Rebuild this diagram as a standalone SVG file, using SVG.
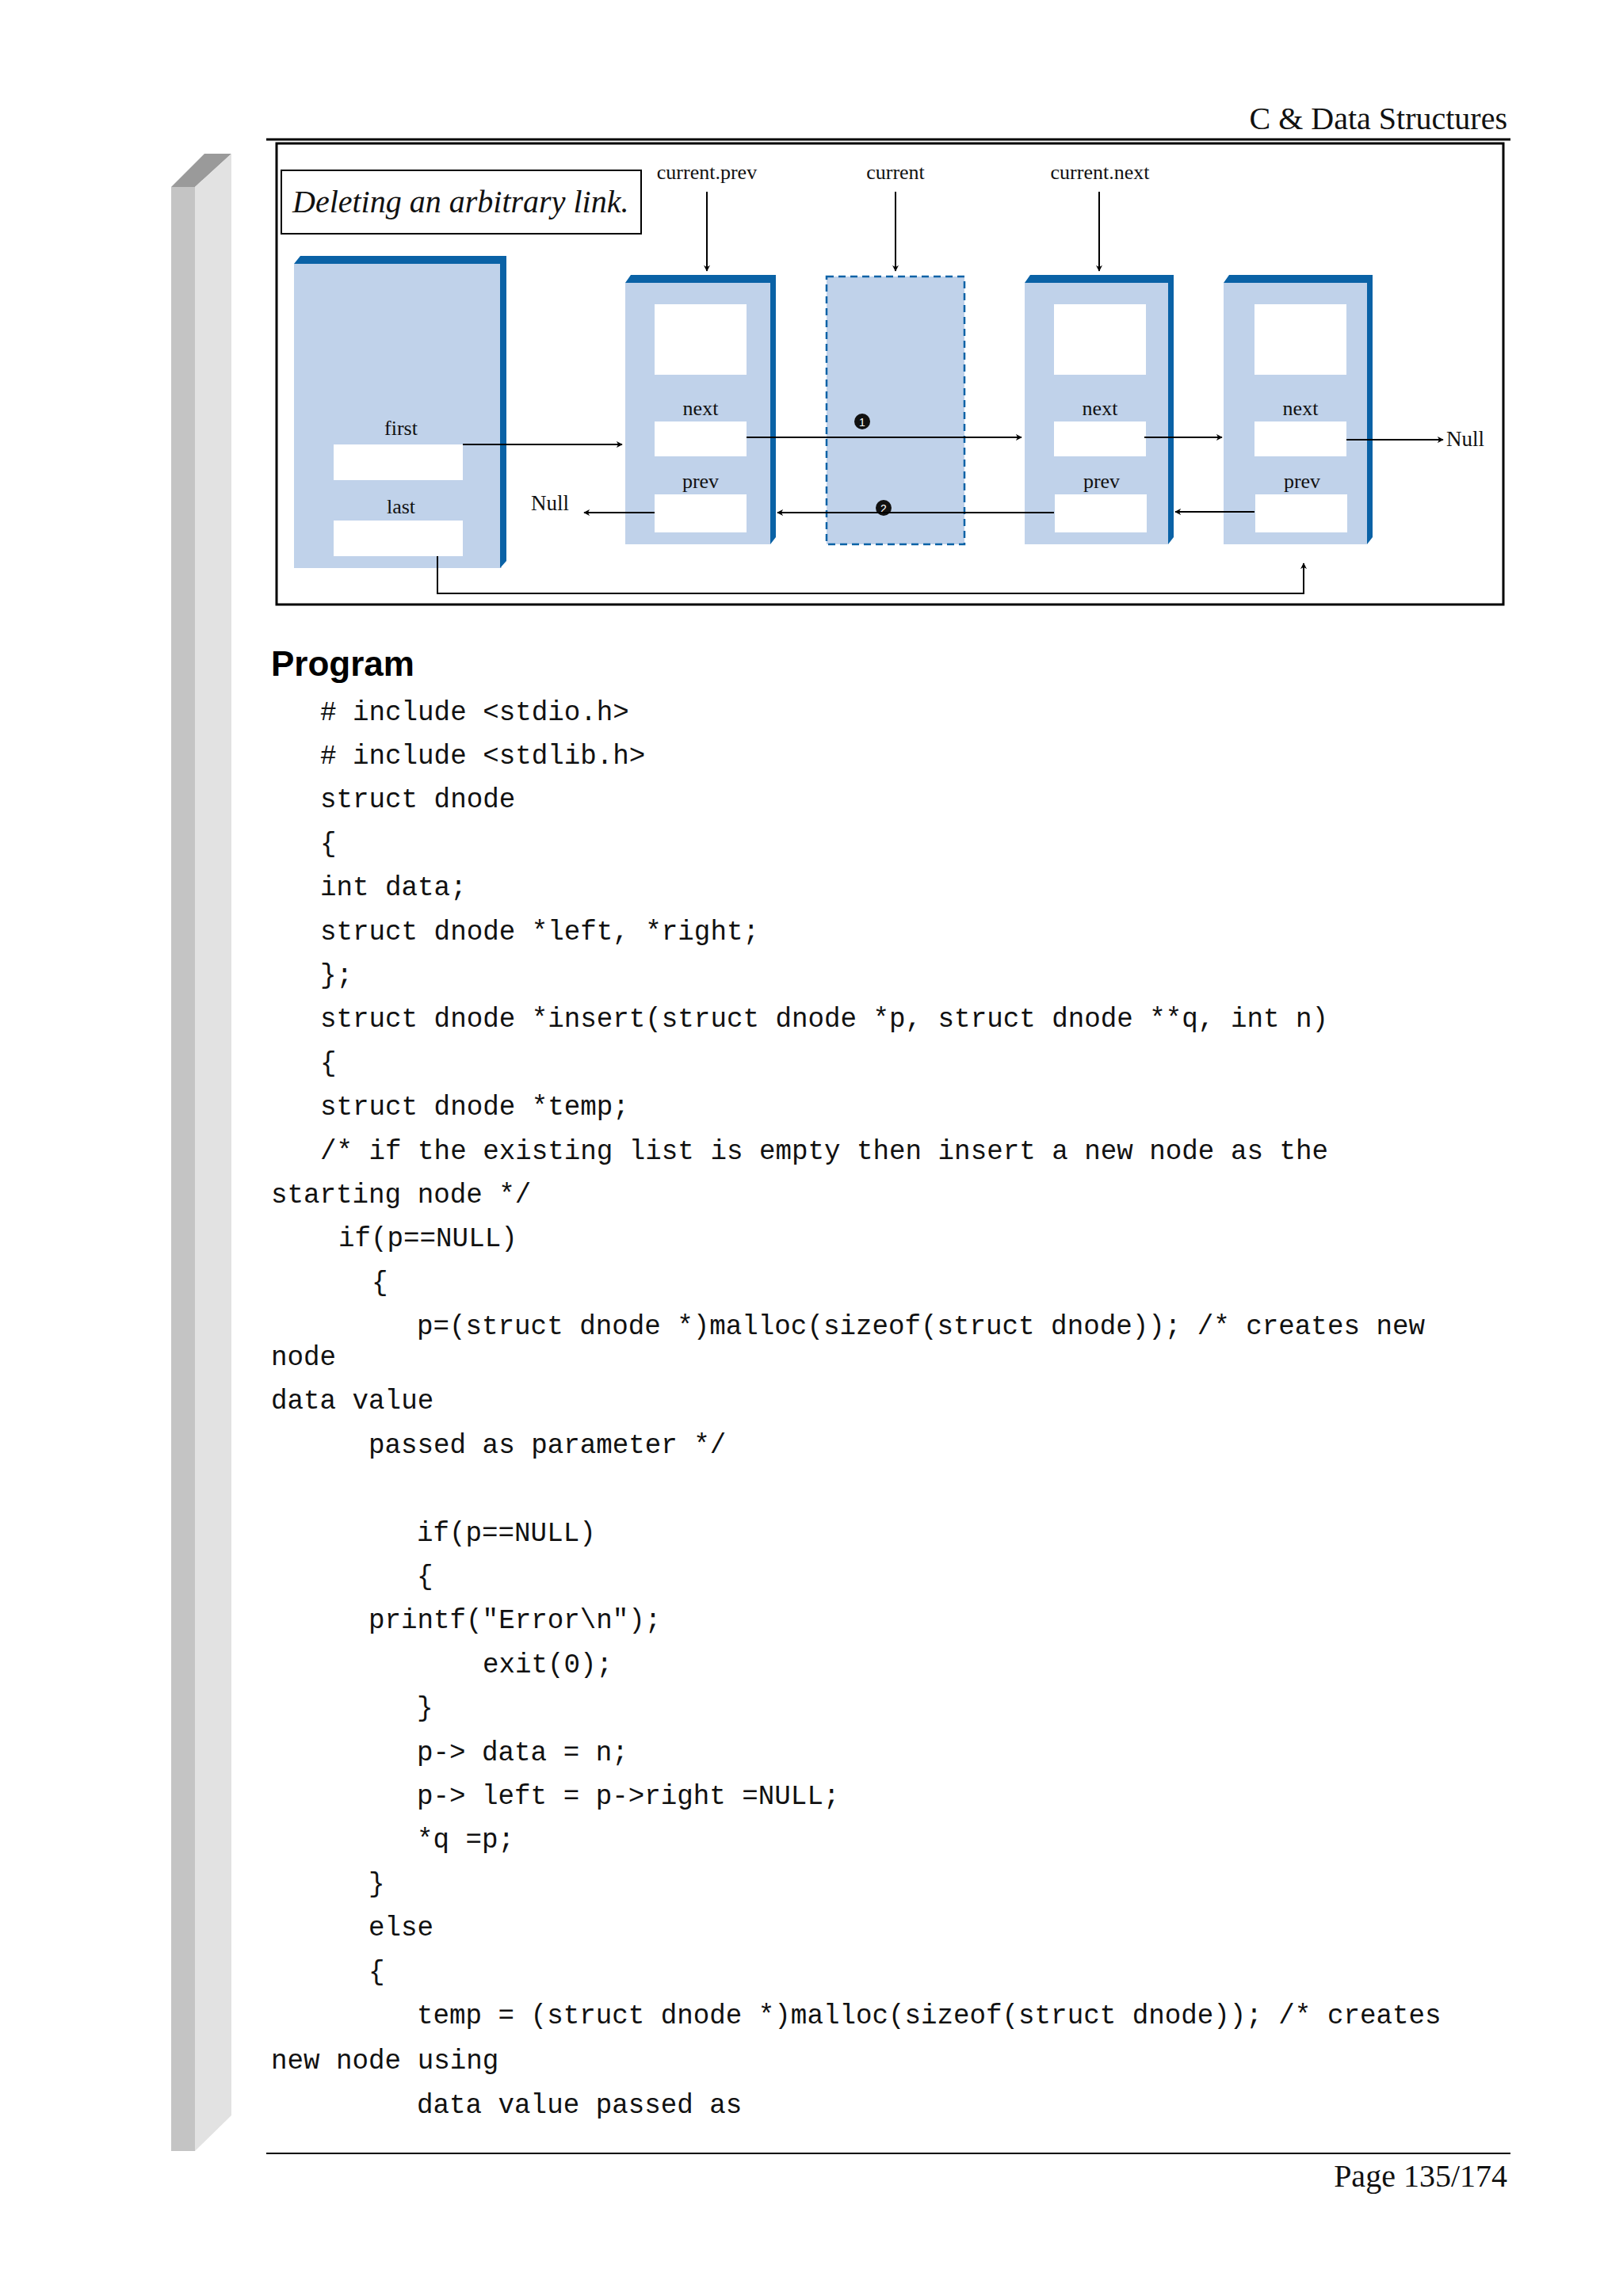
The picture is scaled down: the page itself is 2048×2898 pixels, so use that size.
<svg xmlns="http://www.w3.org/2000/svg" width="2048" height="2898" viewBox="0 0 2048 2898">
<defs>
<marker id="ah" viewBox="0 0 10 10" refX="9" refY="5" markerWidth="8" markerHeight="8" markerUnits="userSpaceOnUse" orient="auto"><path d="M0,0 L10,5 L0,10 L3,5 Z" fill="#000"/></marker>
<style>
.code{font-family:"Liberation Mono",monospace;font-size:34.2px;fill:#111;white-space:pre}
.ser{font-family:"Liberation Serif",serif;fill:#111}
.lbl{font-family:"Liberation Serif",serif;font-size:26px;fill:#111;text-anchor:middle}
.body{fill:#c0d2ea}
.dark{fill:#0a62a6}
.wb{fill:#fff}
.ln{stroke:#000;stroke-width:2;fill:none}
</style>
</defs>
<rect width="2048" height="2898" fill="#fff"/>
<!-- left gray bar -->
<polygon points="216,236 258,194 292,194 246,236" fill="#9a9a9a"/>
<rect x="216" y="236" width="30" height="2479" fill="#c4c4c4"/>
<polygon points="246,236 292,194 292,2670 246,2715" fill="#e2e2e2"/>
<!-- header -->
<text class="ser" x="1902" y="163" font-size="40" text-anchor="end">C &amp; Data Structures</text>
<line x1="336" y1="176" x2="1906" y2="176" stroke="#000" stroke-width="3"/>
<!-- diagram frame -->
<rect x="349" y="181" width="1548" height="582" fill="#fff" stroke="#000" stroke-width="3"/>
<g id="title"><rect x="355" y="215" width="454" height="80" fill="#fff" stroke="#000" stroke-width="2"/>
<text class="ser" x="369" y="268" font-size="40" font-style="italic">Deleting an arbitrary link.</text></g>
<g id="head">
<rect class="body" x="371" y="333" width="262" height="384"/>
<polygon class="dark" points="371,333 379,323 639,323 639,708 631,717 631,333"/>
<text class="lbl" x="506" y="549">first</text>
<rect class="wb" x="421" y="561" width="163" height="45"/>
<text class="lbl" x="506" y="648">last</text>
<rect class="wb" x="421" y="657" width="163" height="45"/>
</g>
<g id="n1">
<rect class="body" x="789" y="357" width="183" height="330"/>
<polygon class="dark" points="789,357 796,347 979,347 979,678 972,687 972,357"/>
<rect class="wb" x="826" y="384" width="116" height="89"/>
<text class="lbl" x="884" y="524">next</text>
<rect class="wb" x="826" y="532" width="116" height="44"/>
<text class="lbl" x="884" y="616">prev</text>
<rect class="wb" x="826" y="624" width="116" height="48"/>
</g>
<g id="current">
<rect x="1043" y="349" width="174" height="338" fill="#c0d2ea" stroke="#0a62a6" stroke-width="2.5" stroke-dasharray="9,6"/>
<circle cx="1088" cy="532" r="10" fill="#111"/><text x="1088" y="538" font-family="Liberation Sans,sans-serif" font-size="14" fill="#fff" text-anchor="middle">1</text>
<circle cx="1115" cy="641" r="10" fill="#111"/><text x="1115" y="647" font-family="Liberation Sans,sans-serif" font-size="14" fill="#fff" text-anchor="middle">2</text>
</g>
<g id="n3">
<rect class="body" x="1293" y="357" width="181" height="330"/>
<polygon class="dark" points="1293,357 1300,347 1481,347 1481,678 1474,687 1474,357"/>
<rect class="wb" x="1330" y="384" width="116" height="89"/>
<text class="lbl" x="1388" y="524">next</text>
<rect class="wb" x="1330" y="532" width="116" height="44"/>
<text class="lbl" x="1390" y="616">prev</text>
<rect class="wb" x="1331" y="624" width="116" height="48"/>
</g>
<g id="n4">
<rect class="body" x="1544" y="357" width="181" height="330"/>
<polygon class="dark" points="1544,357 1551,347 1732,347 1732,678 1725,687 1725,357"/>
<rect class="wb" x="1583" y="384" width="116" height="89"/>
<text class="lbl" x="1641" y="524">next</text>
<rect class="wb" x="1583" y="532" width="116" height="44"/>
<text class="lbl" x="1643" y="616">prev</text>
<rect class="wb" x="1584" y="624" width="116" height="48"/>
</g>
<text class="lbl" x="892" y="226">current.prev</text>
<text class="lbl" x="1130" y="226">current</text>
<text class="lbl" x="1388" y="226">current.next</text>
<text class="ser" x="670" y="644" font-size="27">Null</text>
<text class="ser" x="1825" y="563" font-size="27">Null</text>
<g id="connectors" class="ln" marker-end="url(#ah)">
<line x1="892" y1="242" x2="892" y2="342"/>
<line x1="1130" y1="242" x2="1130" y2="342"/>
<line x1="1387" y1="242" x2="1387" y2="342"/>
<line x1="584" y1="561" x2="785" y2="561"/>
<line x1="942" y1="552" x2="1289" y2="552"/>
<line x1="1444" y1="552" x2="1542" y2="552"/>
<line x1="1699" y1="555" x2="1821" y2="555"/>
<line x1="826" y1="647" x2="737" y2="647"/>
<line x1="1330" y1="647" x2="981" y2="647"/>
<line x1="1583" y1="646" x2="1483" y2="646"/>
<polyline points="552,702 552,749 1645,749 1645,711"/>
</g>
<text x="342" y="853" font-family="Liberation Sans,sans-serif" font-size="44" font-weight="bold" fill="#000">Program</text>
<g class="code">
<text class="code" x="404" y="909"># include &lt;stdio.h&gt;</text>
<text class="code" x="404" y="964"># include &lt;stdlib.h&gt;</text>
<text class="code" x="404" y="1019">struct dnode</text>
<text class="code" x="404" y="1075">{</text>
<text class="code" x="404" y="1130">int data;</text>
<text class="code" x="404" y="1186">struct dnode *left, *right;</text>
<text class="code" x="404" y="1241">};</text>
<text class="code" x="404" y="1296">struct dnode *insert(struct dnode *p, struct dnode **q, int n)</text>
<text class="code" x="404" y="1352">{</text>
<text class="code" x="404" y="1407">struct dnode *temp;</text>
<text class="code" x="404" y="1463">/* if the existing list is empty then insert a new node as the</text>
<text class="code" x="342" y="1518">starting node */</text>
<text class="code" x="427" y="1573">if(p==NULL)</text>
<text class="code" x="469" y="1629">{</text>
<text class="code" x="526" y="1684">p=(struct dnode *)malloc(sizeof(struct dnode)); /* creates new</text>
<text class="code" x="342" y="1723">node</text>
<text class="code" x="342" y="1778">data value</text>
<text class="code" x="465" y="1834">passed as parameter */</text>
<text class="code" x="526" y="1945">if(p==NULL)</text>
<text class="code" x="526" y="2000">{</text>
<text class="code" x="465" y="2055">printf("Error\n");</text>
<text class="code" x="609" y="2111">exit(0);</text>
<text class="code" x="526" y="2166">}</text>
<text class="code" x="526" y="2222">p-&gt; data = n;</text>
<text class="code" x="526" y="2277">p-&gt; left = p-&gt;right =NULL;</text>
<text class="code" x="526" y="2332">*q =p;</text>
<text class="code" x="465" y="2388">}</text>
<text class="code" x="465" y="2443">else</text>
<text class="code" x="465" y="2499">{</text>
<text class="code" x="526" y="2554">temp = (struct dnode *)malloc(sizeof(struct dnode)); /* creates</text>
<text class="code" x="342" y="2611">new node using</text>
<text class="code" x="526" y="2667">data value passed as</text>
</g>
<line x1="336" y1="2718" x2="1906" y2="2718" stroke="#000" stroke-width="2"/>
<text class="ser" x="1902" y="2760" font-size="40" text-anchor="end">Page 135/174</text>
</svg>
